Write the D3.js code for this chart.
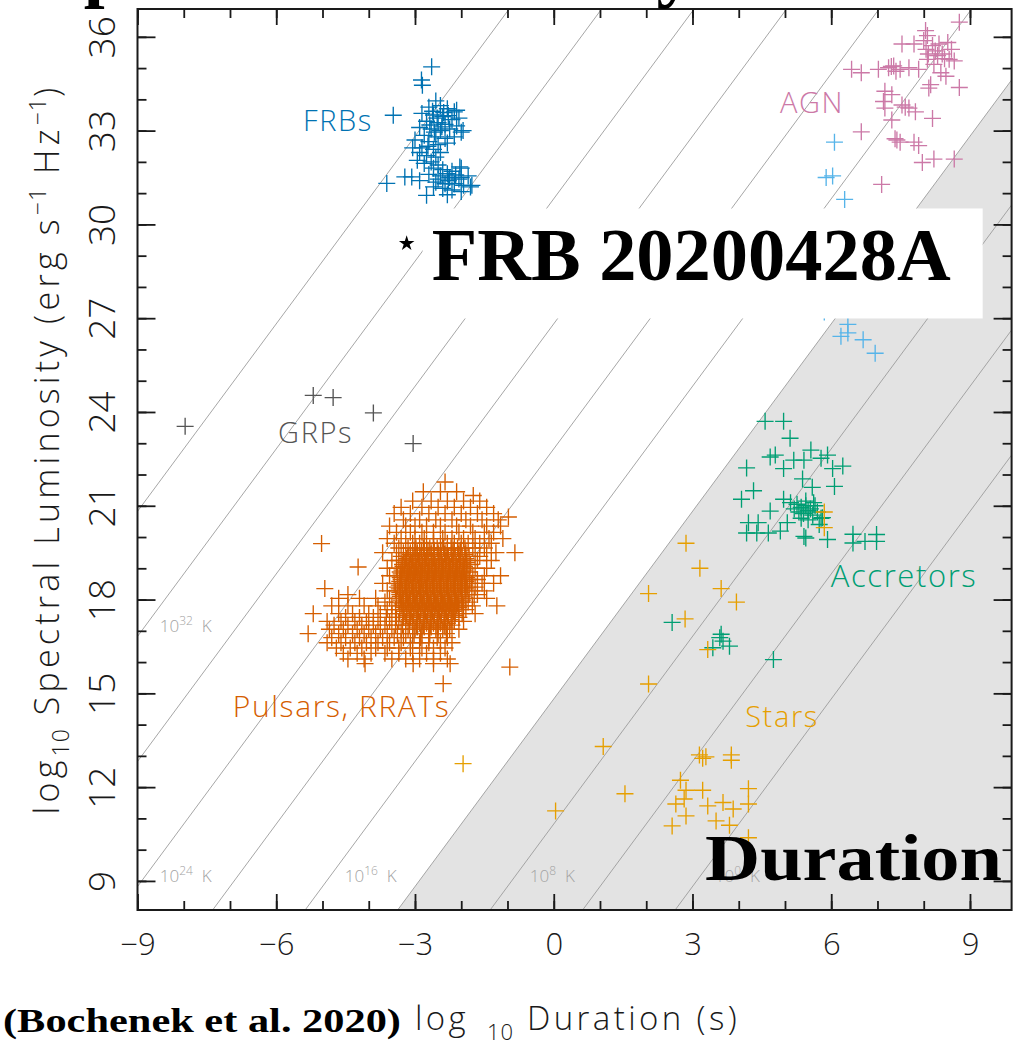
<!DOCTYPE html>
<html>
<head>
<meta charset="utf-8">
<script src="https://cdn.jsdelivr.net/npm/d3@7"></script>
<style>
  html, body { margin: 0; padding: 0; background: #fff; }
  svg { display: block; }
</style>
</head>
<body>
<svg id="chart" width="1027" height="1042"></svg>
<script>
// ---- data: [log10 duration (s), log10 spectral luminosity (erg/s/Hz)] ----
const frbs = [
  [-2.55,33.95],[-2.7,33.75],[-2.45,33.8],[-2.3,33.7],[-2.15,33.6],[-2.85,33.55],[-2.6,33.5],[-2.4,33.45],
  [-2.2,33.35],[-2.05,33.4],[-2.75,33.3],[-2.5,33.25],[-2.35,33.2],[-2.1,33.15],[-2.9,33.1],[-2.65,33.05],
  [-2.45,33.0],[-2.25,33.05],[-2.0,32.95],[-2.8,32.85],[-2.55,32.8],[-2.35,32.75],[-2.15,32.8],[-3.0,32.7],
  [-2.7,32.65],[-2.5,32.55],[-2.3,32.6],[-2.85,32.45],[-2.6,32.4],[-2.45,32.3],[-3.05,32.45],
  [-2.62,33.62],[-2.38,33.58],[-2.52,33.4],[-2.28,33.48],[-2.68,33.18],[-2.42,33.12],[-2.58,32.95],
  [-2.9,32.3],[-2.72,32.5],[-2.95,32.05],
  [-2.75,32.2],[-2.55,32.15],[-2.65,32.0],[-2.8,31.95],[-2.5,31.9],
  [-2.6,31.8],[-2.4,31.75],[-2.2,31.7],[-2.0,31.8],[-2.7,31.6],[-2.45,31.55],[-2.25,31.5],[-2.05,31.45],
  [-1.85,31.55],[-2.55,31.35],[-2.35,31.3],[-2.15,31.3],[-1.95,31.25],[-2.4,31.15],[-2.2,31.1],[-2.0,31.05],
  [-1.8,31.2],[-2.6,31.2],[-2.3,31.62],[-2.12,31.58],[-2.5,31.45],[-2.28,31.4],
  [-3.47,33.49],[-2.64,35.04],[-2.86,34.62],[-2.84,34.45],[-3.61,31.31],[-3.22,31.52],[-3.07,31.52],
  [-2.75,30.93],[-2.03,31.84],[-2.0,31.5],[-1.77,31.25],[-1.96,33.0],[-2.1,33.65],[-2.9,31.4],[-2.3,30.95]
];

const agn = [
  [8.77,36.47],[8.04,36.2],[8.08,36.04],[8.0,35.88],[7.53,35.77],[7.79,35.77],[8.19,35.72],[8.33,35.77],
  [8.52,35.82],[6.44,34.96],[6.65,34.85],[7.02,34.96],[7.24,35.01],[7.35,35.07],[7.49,34.96],[7.68,35.01],
  [7.89,34.96],[8.08,35.28],[8.22,35.12],[8.55,35.28],[8.66,35.23],[8.37,34.85],[8.48,34.74],[8.15,34.47],
  [8.11,34.36],[8.77,34.38],[7.16,34.26],[7.31,34.15],[7.13,33.93],[7.16,33.72],[7.53,33.82],[7.68,33.72],
  [7.82,33.6],[8.19,33.39],[7.31,33.34],[6.65,32.96],[7.38,32.74],[7.49,32.63],[7.79,32.63],[7.89,32.52],
  [7.97,31.98],[8.22,32.09],[8.66,32.09],[7.09,31.28],[8.05,35.6],[8.1,35.45],[8.25,35.55],[8.4,35.45],
  [8.6,35.6],[8.3,35.4],[8.45,35.3],[7.3,35.05],[7.4,34.9],[7.6,33.75],[7.42,32.7]
];

const lightBlue = [
  [6.07,32.63],[5.89,31.5],[6.03,31.55],[6.29,30.8],[6.36,26.53],[6.69,26.31],[6.95,25.88],
  [6.21,26.42],[6.36,26.8],[5.85,27.2],[6.1,28.2]
];

const grps = [[-7.97,23.54],[-5.2,24.53],[-4.77,24.46],[-3.9,23.97],[-3.04,22.99]];

// pulsars and RRATs, listed row by row: [luminosity, durations...]
const pulsarRows = [
  [21.76,-2.35],
  [21.45,-2.82,-2.45,-2.1],
  [21.33,-1.74],
  [21.15,-3.05,-2.65,-2.3,-1.95,-1.6],
  [20.95,-3.3,-2.85,-2.5,-2.15,-1.8,-1.45],
  [20.75,-3.45,-3.1,-2.7,-2.35,-2.0,-1.65,-1.3],
  [20.64,-0.98],
  [20.55,-3.25,-2.9,-2.55,-2.2,-1.9,-1.55,-1.2],
  [20.35,-3.55,-3.2,-3.0,-2.75,-2.45,-2.1,-1.8,-1.45,-1.15],
  [20.15,-3.4,-3.1,-2.85,-2.6,-2.35,-2.05,-1.75,-1.5,-1.3],
  [19.95,-3.6,-3.3,-3.0,-2.8,-2.6,-2.4,-2.2,-1.95,-1.7,-1.4,-1.1],
  [19.79,-5.02],
  [19.8,-3.45,-3.2,-3.05,-2.9,-2.75,-2.6,-2.45,-2.3,-2.15,-2.0,-1.85,-1.6,-1.35],
  [19.65,-3.35,-3.15,-2.98,-2.82,-2.68,-2.52,-2.38,-2.22,-2.08,-1.92,-1.75,-1.5],
  [19.58,-3.0,-2.86,-2.72,-2.58,-2.44,-2.3,-2.16,-2.02],
  [19.5,-3.7,-3.4,-3.25,-3.1,-2.95,-2.8,-2.65,-2.5,-2.35,-2.2,-2.05,-1.9,-1.7,-1.45,-1.25,-0.84],
  [19.44,-3.1,-2.95,-2.8,-2.65,-2.5,-2.36,-2.21,-2.06,-1.92],
  [19.38,-3.3,-3.15,-3.0,-2.87,-2.72,-2.58,-2.43,-2.28,-2.13,-1.98,-1.83,-1.6],
  [19.31,-3.18,-3.04,-2.9,-2.75,-2.6,-2.46,-2.31,-2.16,-2.01,-1.9],
  [19.25,-3.5,-3.35,-3.2,-3.05,-2.92,-2.78,-2.63,-2.48,-2.33,-2.18,-2.03,-1.88,-1.65,-1.35],
  [19.18,-3.22,-3.07,-2.92,-2.78,-2.64,-2.49,-2.34,-2.19,-2.04,-1.88],
  [19.12,-3.27,-3.12,-2.98,-2.84,-2.7,-2.55,-2.4,-2.25,-2.1,-1.95,-1.8],
  [19.06,-3.26,-3.12,-2.97,-2.83,-2.68,-2.53,-2.38,-2.23,-2.08,-1.93],
  [19.04,-4.23],
  [19.0,-3.6,-3.4,-3.22,-3.08,-2.93,-2.78,-2.63,-2.48,-2.33,-2.18,-2.03,-1.88,-1.7,-1.45],
  [18.94,-3.28,-3.13,-2.99,-2.85,-2.7,-2.55,-2.4,-2.26,-2.1,-1.95],
  [18.88,-3.32,-3.17,-3.02,-2.88,-2.73,-2.58,-2.43,-2.28,-2.13,-1.98,-1.83],
  [18.82,-3.3,-3.16,-3.02,-2.87,-2.72,-2.57,-2.42,-2.27,-2.12,-1.97],
  [18.76,-3.55,-3.38,-3.24,-3.1,-2.95,-2.8,-2.65,-2.5,-2.35,-2.2,-2.05,-1.9,-1.75,-1.5,-1.15],
  [18.7,-3.32,-3.18,-3.04,-2.89,-2.74,-2.6,-2.45,-2.3,-2.15,-2.0,-1.88],
  [18.64,-3.3,-3.15,-3.0,-2.86,-2.72,-2.57,-2.42,-2.27,-2.12,-1.97,-1.82,-1.65],
  [18.58,-3.33,-3.19,-3.05,-2.9,-2.75,-2.61,-2.46,-2.31,-2.16,-2.01,-1.9],
  [18.52,-3.7,-3.45,-3.28,-3.13,-2.98,-2.83,-2.68,-2.53,-2.38,-2.23,-2.08,-1.93,-1.78,-1.55,-1.3],
  [18.46,-3.34,-3.2,-3.06,-2.91,-2.76,-2.62,-2.47,-2.32,-2.17,-2.02,-1.92],
  [18.4,-3.38,-3.22,-3.07,-2.92,-2.77,-2.62,-2.47,-2.32,-2.17,-2.02,-1.87,-1.7],
  [18.35,-4.95],
  [18.34,-3.34,-3.2,-3.05,-2.9,-2.75,-2.6,-2.45,-2.3,-2.15,-2.0,-1.9],
  [18.28,-3.6,-3.42,-3.27,-3.12,-2.97,-2.82,-2.67,-2.52,-2.37,-2.22,-2.07,-1.92,-1.77,-1.5],
  [18.22,-3.33,-3.19,-3.04,-2.89,-2.74,-2.59,-2.44,-2.29,-2.14,-1.99],
  [18.16,-4.45,-3.33,-3.18,-3.03,-2.88,-2.73,-2.58,-2.43,-2.28,-2.13,-1.98,-1.83,-1.65],
  [18.1,-3.32,-3.17,-3.02,-2.87,-2.72,-2.57,-2.42,-2.27,-2.12,-1.98],
  [18.04,-4.65,-4.2,-3.85,-3.55,-3.4,-3.25,-3.1,-2.95,-2.8,-2.65,-2.5,-2.35,-2.2,-2.05,-1.9,-1.72,-1.45],
  [17.98,-3.3,-3.15,-3.0,-2.85,-2.7,-2.55,-2.4,-2.25,-2.1,-1.97],
  [17.92,-3.65,-3.35,-3.2,-3.05,-2.9,-2.75,-2.6,-2.45,-2.3,-2.15,-2.0,-1.85],
  [17.86,-3.28,-3.13,-2.98,-2.83,-2.68,-2.53,-2.38,-2.23,-2.08],
  [17.8,-4.8,-4.45,-4.1,-3.8,-3.5,-3.3,-3.15,-3.0,-2.85,-2.7,-2.55,-2.4,-2.25,-2.1,-1.95,-1.76,-1.23],
  [17.74,-3.25,-3.1,-2.95,-2.8,-2.65,-2.5,-2.35,-2.2,-2.06],
  [17.68,-3.6,-3.42,-3.26,-3.1,-2.95,-2.8,-2.65,-2.5,-2.35,-2.2,-2.05,-1.9],
  [17.62,-3.22,-3.07,-2.92,-2.77,-2.62,-2.47,-2.32,-2.17],
  [17.55,-5.2,-4.65,-4.35,-4.0,-3.75,-3.5,-3.33,-3.18,-3.03,-2.88,-2.73,-2.58,-2.43,-2.28,-2.13,-1.98,-1.7],
  [17.49,-3.18,-3.03,-2.88,-2.73,-2.58,-2.43,-2.28,-2.14],
  [17.43,-4.5,-4.2,-3.9,-3.62,-3.4,-3.25,-3.1,-2.95,-2.8,-2.65,-2.5,-2.35,-2.2,-2.05],
  [17.36,-3.12,-2.97,-2.82,-2.67,-2.52,-2.37,-2.22],
  [17.3,-4.9,-4.6,-4.3,-4.05,-3.8,-3.55,-3.35,-3.2,-3.05,-2.9,-2.75,-2.6,-2.45,-2.3,-2.15,-1.95],
  [17.24,-3.05,-2.9,-2.75,-2.6,-2.45,-2.3],
  [17.18,-4.75,-4.45,-4.15,-3.9,-3.65,-3.42,-3.27,-3.12,-2.97,-2.82,-2.67,-2.52,-2.37,-2.2],
  [17.12,-2.95,-2.8,-2.65,-2.5,-2.35],
  [17.05,-4.85,-4.55,-4.25,-4.0,-3.75,-3.5,-3.3,-3.15,-3.0,-2.85,-2.7,-2.55,-2.4,-2.25,-2.05],
  [16.91,-5.31,-4.65,-4.35,-4.1,-3.85,-3.6,-3.38,-3.2,-3.02,-2.85,-2.68,-2.5,-2.32],
  [16.78,-4.8,-4.5,-4.2,-3.95,-3.7,-3.45,-3.25,-3.05,-2.88,-2.7,-2.52,-2.3],
  [16.62,-4.9,-4.6,-4.3,-4.05,-3.8,-3.55,-3.3,-3.1,-2.9,-2.7,-2.45,-2.2],
  [16.45,-4.7,-4.4,-4.15,-3.85,-3.6,-3.35,-3.1,-2.85,-2.6,-2.35],
  [16.28,-4.55,-4.25,-3.95,-3.65,-3.35,-3.05,-2.75,-2.45],
  [16.1,-4.45,-4.1,-3.5,-3.2,-2.9,-2.6,-2.3],
  [15.95,-4.08,-3.04,-2.6,-2.24],
  [15.84,-0.95],
  [15.31,-2.39]
];

const accretors = [
  [4.57,23.70],[4.97,23.70],[5.11,23.16],[4.68,22.56],[4.79,22.62],[4.17,22.21],[4.97,22.19],[5.19,22.46],
  [5.41,22.46],[5.56,22.78],[5.78,22.52],[5.92,22.62],[6.03,22.19],[6.25,22.27],[5.38,21.86],[5.59,21.59],
  [6.07,21.62],[4.32,21.48],[4.06,21.21],[4.97,21.21],[5.12,21.10],
  [5.26,21.05],[5.35,20.95],[5.45,21.0],[5.55,20.9],[5.65,21.0],[5.3,20.8],[5.4,20.75],[5.5,20.85],
  [5.6,20.7],[5.7,20.8],[5.78,20.6],[5.35,20.6],[5.5,20.55],[5.2,20.9],[5.45,21.15],[5.62,21.1],
  [4.68,20.83],[4.21,20.46],[4.42,20.46],[5.05,20.46],[4.17,20.13],[4.39,20.13],[4.64,20.13],[4.9,20.19],
  [5.41,20.02],[5.45,19.97],[5.74,20.40],[5.81,20.62],[5.92,19.92],[6.47,20.09],[6.47,19.81],[6.73,19.86],
  [6.98,20.08],[6.98,19.86],[2.56,17.27],[3.59,16.78],[3.62,16.89],[3.66,16.67],[3.8,16.51],[3.44,16.46],
  [4.75,16.08]
];

const stars = [
  [2.86,19.8],[3.16,19.0],[3.62,18.35],[2.05,18.19],[3.95,17.92],[2.84,17.38],[3.33,16.4],[2.05,15.3],
  [1.07,13.3],[1.54,11.79],[0.04,11.24],[3.15,13.03],[3.29,12.97],[3.22,12.92],[3.84,13.03],[3.84,12.86],
  [2.74,12.22],[2.86,11.9],[2.82,11.62],[3.22,11.9],[4.21,11.95],[2.64,11.46],[3.33,11.4],[3.66,11.51],
  [3.88,11.3],[4.21,11.46],[2.86,11.08],[3.51,10.92],[3.8,10.78],[2.56,10.76],[4.21,10.38],[-1.96,12.75],
  [5.85,20.8],[5.85,20.3]
];

const frb20200428 = [-3.18, 29.39];

// brightness-temperature lines (log10 K) and the ones that carry a label
const tempExps = [0, 4, 8, 12, 16, 20, 24, 28, 32, 36];
const tempLabelled = [32, 24, 16, 8, 0];
const coherenceLimit = 12;
// log L = log T + 2 log t + TB_OFFSET
const TB_OFFSET = 2.82;

const xMajor = [-9, -6, -3, 0, 3, 6, 9];
const yMajor = [9, 12, 15, 18, 21, 24, 27, 30, 33, 36];

// ---- drawing ----
const svg = d3.select("#chart");
const SANS = "'Open Sans','Liberation Sans',sans-serif";
const SERIF = "'Liberation Serif','Times New Roman',serif";

const x = d3.scaleLinear().domain([-9, 9.9]).range([137.5, 1011.6]);
const y = d3.scaleLinear().domain([8.07, 36.89]).range([910, 9]);
const [xL, xR] = x.range();
const [yB, yT] = y.range();
const [tA, tB] = x.domain();

const lumAt = (logT, t) => logT + 2 * t + TB_OFFSET;
const durAt = (logT, L) => (L - logT - TB_OFFSET) / 2;

svg.append("clipPath").attr("id", "plotClip")
  .append("rect").attr("x", xL).attr("y", yT).attr("width", xR - xL).attr("height", yB - yT);

const plot = svg.append("g").attr("clip-path", "url(#plotClip)");

// region above the incoherent brightness limit
const lowL = y.domain()[0] - 30;
const shade = [[tA, lumAt(coherenceLimit, tA)], [tB, lumAt(coherenceLimit, tB)], [tB, lowL], [tA, lowL]];
plot.append("path")
  .attr("d", d3.line().x(d => x(d[0])).y(d => y(d[1]))(shade) + "Z")
  .attr("fill", "#e3e3e3");

plot.append("g").selectAll("line").data(tempExps).join("line")
  .attr("x1", x(tA)).attr("y1", d => y(lumAt(d, tA)))
  .attr("x2", x(tB)).attr("y2", d => y(lumAt(d, tB)))
  .attr("stroke", "#9c9c9c").attr("stroke-width", 0.9);

// temperature labels
const tl = plot.append("g").attr("fill", "#a3a3a3").attr("font-family", SANS).attr("font-weight", 300);
tempLabelled.forEach(e => {
  const Lb = e === 32 ? 16.96 : 8.96;
  const t = tl.append("text")
    .attr("x", x(durAt(e, Lb)) + 19).attr("y", y(Lb))
    .attr("font-size", 17);
  t.append("tspan").text("10");
  t.append("tspan").attr("font-size", 12).attr("dy", -7).text(String(e));
  t.append("tspan").attr("dy", 7).attr("dx", 9).text("K");
});

function crosses(points, color) {
  plot.append("g").attr("stroke", color).attr("stroke-width", 1.35).attr("fill", "none")
    .selectAll("path").data(points).join("path")
    .attr("transform", d => `translate(${x(d[0])},${y(d[1])})`)
    .attr("d", "M-8.5,0H8.5M0,-8.5V8.5");
}

const pulsars = pulsarRows.flatMap(([L, ...ts]) => ts.map(t => [t, L]));
crosses(pulsars, "#d55e00");
crosses(grps, "#555555");
crosses(frbs, "#0072b2");
crosses(lightBlue, "#56b4e9");
crosses(agn, "#cc79a7");
crosses(accretors, "#009e73");
crosses(stars, "#e69f00");

// class labels: [text, duration, luminosity, colour, size]
const classLabels = [
  ["FRBs", -5.42, 32.99, "#0072b2", 29],
  ["AGN", 4.89, 33.56, "#cc79a7", 29],
  ["GRPs", -5.96, 23.0, "#555555", 29],
  ["Pulsars, RRATs", -6.94, 14.23, "#d55e00", 30],
  ["Accretors", 5.99, 18.39, "#009e73", 31],
  ["Stars", 4.14, 13.91, "#e69f00", 29]
];
svg.append("g").attr("font-family", SANS).attr("font-weight", 300).attr("letter-spacing", 1.6)
  .selectAll("text").data(classLabels).join("text")
  .attr("x", d => x(d[1])).attr("y", d => y(d[2]))
  .attr("fill", d => d[3]).attr("font-size", d => d[4])
  .text(d => d[0]);

// axes: major and minor ticks on all four sides, pointing inward
function styleAxis(g) {
  g.select(".domain").remove();
  g.selectAll(".tick line").attr("stroke", "#1a1a1a").attr("stroke-width", 1.8);
  g.attr("font-family", SANS).attr("font-weight", 300);
}
const xMinor = d3.range(-9, 10);
const yMinor = d3.range(9, 37);

svg.append("g").attr("transform", `translate(0,${yB})`)
  .call(d3.axisBottom(x).tickValues(xMajor).tickSize(-16).tickSizeOuter(0).tickPadding(23))
  .call(styleAxis)
  .attr("font-size", 31)
  .call(g => g.selectAll("text").attr("fill", "#1a1a1a"));
svg.append("g").attr("transform", `translate(0,${yB})`)
  .call(d3.axisBottom(x).tickValues(xMinor).tickSize(-9).tickSizeOuter(0).tickFormat(""))
  .call(styleAxis);
svg.append("g").attr("transform", `translate(0,${yT})`)
  .call(d3.axisTop(x).tickValues(xMajor).tickSize(-16).tickSizeOuter(0).tickFormat(""))
  .call(styleAxis);
svg.append("g").attr("transform", `translate(0,${yT})`)
  .call(d3.axisTop(x).tickValues(xMinor).tickSize(-9).tickSizeOuter(0).tickFormat(""))
  .call(styleAxis);

svg.append("g").attr("transform", `translate(${xL},0)`)
  .call(d3.axisLeft(y).tickValues(yMajor).tickSize(-18).tickSizeOuter(0).tickFormat(d3.format("d")))
  .call(styleAxis)
  .attr("font-size", 37)
  .call(g => g.selectAll("text")
    .attr("x", 0).attr("dy", null)
    .attr("text-anchor", "middle").attr("fill", "#1a1a1a")
    .attr("transform", "translate(-22.5,0) rotate(-90)"));
svg.append("g").attr("transform", `translate(${xL},0)`)
  .call(d3.axisLeft(y).tickValues(yMinor).tickSize(-9).tickSizeOuter(0).tickFormat(""))
  .call(styleAxis);
svg.append("g").attr("transform", `translate(${xR},0)`)
  .call(d3.axisRight(y).tickValues(yMajor).tickSize(-18).tickSizeOuter(0).tickFormat(""))
  .call(styleAxis);
svg.append("g").attr("transform", `translate(${xR},0)`)
  .call(d3.axisRight(y).tickValues(yMinor).tickSize(-9).tickSizeOuter(0).tickFormat(""))
  .call(styleAxis);

svg.append("rect").attr("x", xL).attr("y", yT).attr("width", xR - xL).attr("height", yB - yT)
  .attr("fill", "none").attr("stroke", "#1a1a1a").attr("stroke-width", 2);

// axis titles
const xt = svg.append("text").attr("y", 1030).attr("font-family", SANS).attr("font-weight", 300)
  .attr("font-size", 33).attr("fill", "#1a1a1a").attr("letter-spacing", 3.4);
xt.append("tspan").attr("x", 415).text("log");
xt.append("tspan").attr("x", 487).attr("dy", 10).attr("font-size", 22).attr("letter-spacing", 1).text("10");
xt.append("tspan").attr("x", 527).attr("dy", -10).text("Duration (s)");

const yt = svg.append("text").attr("transform", "translate(59,449) rotate(-90)")
  .attr("text-anchor", "middle").attr("font-family", SANS).attr("font-weight", 300)
  .attr("font-size", 34).attr("fill", "#1a1a1a").attr("letter-spacing", 4.2);
yt.append("tspan").text("log");
yt.append("tspan").attr("dy", 10).attr("font-size", 23).attr("letter-spacing", 1).text("10");
yt.append("tspan").attr("dy", -10).text(" Spectral Luminosity (erg s");
yt.append("tspan").attr("dy", -13).attr("font-size", 23).attr("letter-spacing", 1).text("\u22121");
yt.append("tspan").attr("dy", 13).text(" Hz");
yt.append("tspan").attr("dy", -13).attr("font-size", 23).attr("letter-spacing", 1).text("\u22121");
yt.append("tspan").attr("dy", 13).text(")");

// FRB 20200428A marker and its callout
const sx = x(frb20200428[0]), sy = y(frb20200428[1]);
svg.append("rect").attr("x", sx + 16).attr("y", sy - 35).attr("width", 560).attr("height", 110).attr("fill", "#fff");
svg.append("path").attr("d", d3.symbol(d3.symbolStar, 75)())
  .attr("transform", `translate(${sx},${sy})`).attr("fill", "#000");
svg.append("text").attr("x", sx + 25).attr("y", sy + 37)
  .attr("font-family", SERIF).attr("font-weight", "bold").attr("font-size", 75)
  .attr("textLength", 519).attr("lengthAdjust", "spacingAndGlyphs")
  .text("FRB 20200428A");

svg.append("text").attr("x", 705).attr("y", 880)
  .attr("font-family", SERIF).attr("font-weight", "bold").attr("font-size", 65)
  .attr("textLength", 297).attr("lengthAdjust", "spacingAndGlyphs")
  .text("Duration");

svg.append("text").attr("x", 3).attr("y", 1031.7)
  .attr("font-family", SERIF).attr("font-weight", "bold").attr("font-size", 34.5)
  .attr("textLength", 398).attr("lengthAdjust", "spacingAndGlyphs")
  .text("(Bochenek et al. 2020)");

svg.append("text").attr("x", 42).attr("y", -7)
  .attr("font-family", SERIF).attr("font-weight", "bold").attr("font-size", 75)
  .text("Spectral Luminosity");
</script>
</body>
</html>
